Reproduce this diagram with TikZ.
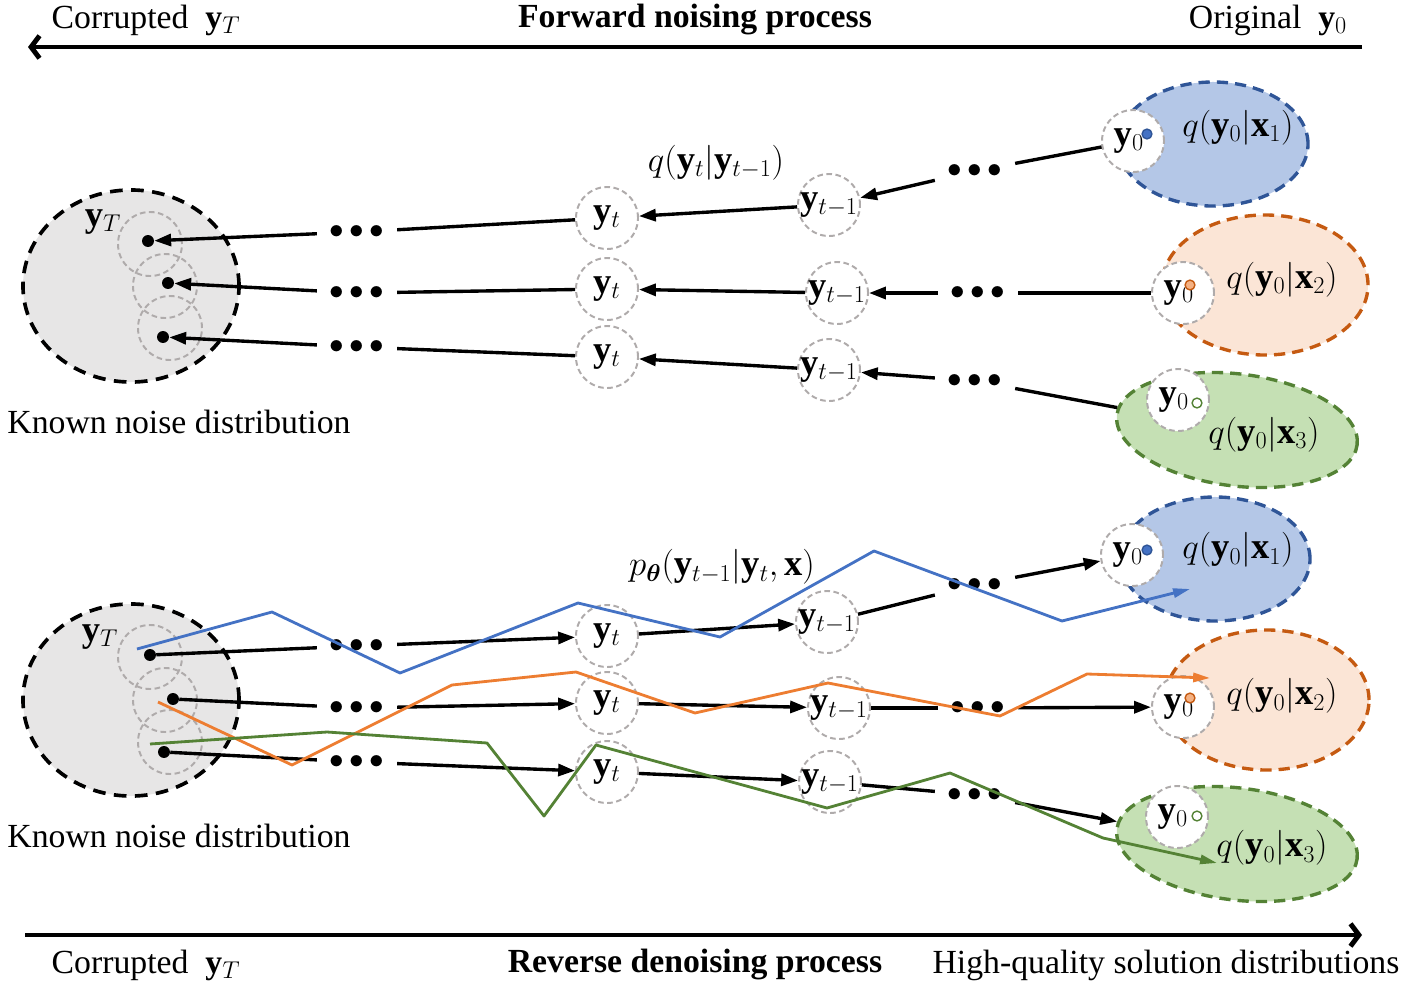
\documentclass[tikz,border=0pt]{standalone}
\usepackage{fontspec}
\setmainfont{Liberation Serif}
\usepackage{amsmath}
\usetikzlibrary{shapes.geometric,arrows.meta,positioning}

\definecolor{nodegray}{HTML}{AFABAB}
\definecolor{noisegray}{HTML}{E7E6E6}
\definecolor{trajblue}{HTML}{4472C4}
\definecolor{fillblue}{HTML}{B4C7E7}
\definecolor{edgeblue}{HTML}{2F5597}
\definecolor{trajorange}{HTML}{ED7D31}
\definecolor{fillorange}{HTML}{FBE5D6}
\definecolor{edgeorange}{HTML}{C55A11}
\definecolor{dotorange}{HTML}{F4B183}
\definecolor{trajgreen}{HTML}{548235}
\definecolor{fillgreen}{HTML}{C5E0B4}

\newcommand{\tridots}{${\bullet}\hspace{4pt}{\bullet}\hspace{4pt}{\bullet}$}

\tikzset{
  state/.style={circle, draw=nodegray, line width=1.4pt, dash pattern=on 4pt off 2.5pt, minimum size=1.55cm, inner sep=0pt},
  every label/.append style={font=\fontsize{26}{30}\selectfont},
  mathlbl/.style={font=\fontsize{26}{30}\selectfont},
  noise/.style={ellipse, fill=noisegray, draw=black, line width=2.6pt, dash pattern=on 9pt off 6pt, minimum width=5.4cm, minimum height=4.8cm},
  dist/.style={ellipse, line width=2.4pt, dash pattern=on 8pt off 5pt},
  endpt/.style={circle, fill=black, inner sep=0pt, minimum size=8.5pt},
  smallpt/.style={circle, line width=1pt, inner sep=0pt, minimum size=7pt},
  dots/.style={inner sep=0pt, outer sep=9pt, font=\fontsize{21}{25}\selectfont},
  link/.style={line width=2.4pt},
  fwd/.style={line width=2.4pt, -{Triangle[length=12pt,width=8.5pt]}},
  axis/.style={line width=3.5pt, -{Straight Barb[length=6pt,width=16pt]}},
  traj/.style={line width=2pt, line join=round},
  trajend/.style={traj, -{Triangle[length=12pt,width=6.5pt]}},
}

\begin{document}
\begin{tikzpicture}[x=0.025cm, y=-0.025cm, font=\fontsize{24}{28}\selectfont]
\useasboundingbox (0,0) rectangle (1416,987);

% forward axis
\node (cTop) at (146,20) {Corrupted~~$\mathbf{y}_T$};
\node[font=\fontsize{24}{28}\selectfont\bfseries] (fTop) at (695,20) {Forward noising process};
\node (oTop) at (1268,20) {Original~~$\mathbf{y}_0$};
\coordinate (axTr) at (1362,47);
\coordinate (axTl) at (28,47);
\draw[axis] (axTr) -- (axTl);

% reverse axis
\node (cBot) at (146,965) {Corrupted~~$\mathbf{y}_T$};
\node[font=\fontsize{24}{28}\selectfont\bfseries] (rBot) at (695,965) {Reverse denoising process};
\node (hBot) at (1166,965) {High-quality solution distributions};
\coordinate (axBl) at (25,935);
\coordinate (axBr) at (1362,935);
\draw[axis] (axBl) -- (axBr);

%%%%% forward part
\node[noise] (nA) at (131,286) {};
\node[mathlbl] (lA) at (103,222) {$\mathbf{y}_T$};
\node[state, minimum size=1.6cm] (cA1) at (150,244) {};
\node[state, minimum size=1.6cm] (cA2) at (165,286) {};
\node[state, minimum size=1.6cm] (cA3) at (170,328) {};
\node[endpt] (pA1) at (148,241) {};
\node[endpt] (pA2) at (168,283) {};
\node[endpt] (pA3) at (163,337) {};
\node (kA) at (179,422) {Known noise distribution};

\node[dots] (dA1) at (357,232) {\tridots};
\node[dots] (dA2) at (357,293) {\tridots};
\node[dots] (dA3) at (357,347) {\tridots};
\node[dots] (dA4) at (975,171) {\tridots};
\node[dots] (dA5) at (978,293) {\tridots};
\node[dots] (dA6) at (975,381) {\tridots};

\node[state, label=center:{$\mathbf{y}_t$}] (tA1) at (607,218) {};
\node[state, label=center:{$\mathbf{y}_t$}] (tA2) at (607,289) {};
\node[state, label=center:{$\mathbf{y}_t$}] (tA3) at (607,357) {};
\node[state, label=center:{$\mathbf{y}_{t-1}$}] (sA1) at (829,205) {};
\node[state, label=center:{$\mathbf{y}_{t-1}$}] (sA2) at (837,293) {};
\node[state, label=center:{$\mathbf{y}_{t-1}$}] (sA3) at (829,370) {};
\node[mathlbl] (qA) at (716,163) {$q(\mathbf{y}_t|\mathbf{y}_{t-1})$};

\node[dist, fill=fillblue, draw=edgeblue, minimum width=4.75cm, minimum height=3.1cm] (eA1) at (1213,144) {};
\node[dist, fill=fillorange, draw=edgeorange, minimum width=5.15cm, minimum height=3.5cm] (eA2) at (1265,285) {};
\node[dist, fill=fillgreen, draw=trajgreen, minimum width=6.05cm, minimum height=2.8cm, rotate=-7] (eA3) at (1237,430) {};
\node[state, fill=white, label={[xshift=-3pt]center:{$\mathbf{y}_0$}}] (oA1) at (1133,141) {};
\node[state, fill=white, label={[xshift=-3pt]center:{$\mathbf{y}_0$}}] (oA2) at (1183,293) {};
\node[state, fill=white, label={[xshift=-3pt]center:{$\mathbf{y}_0$}}] (oA3) at (1178,400) {};
\node[smallpt, fill=trajblue, draw=edgeblue] (bA1) at (1147,134) {};
\node[smallpt, fill=dotorange, draw=edgeorange] (bA2) at (1190,285) {};
\node[smallpt, fill=white, draw=trajgreen] (bA3) at (1197,403) {};
\node[mathlbl] (gA1) at (1238,128) {$q(\mathbf{y}_0|\mathbf{x}_1)$};
\node[mathlbl] (gA2) at (1282,280) {$q(\mathbf{y}_0|\mathbf{x}_2)$};
\node[mathlbl] (gA3) at (1264,435) {$q(\mathbf{y}_0|\mathbf{x}_3)$};

\draw[link] (oA1) -- (dA4);
\draw[link] (oA2) -- (dA5);
\draw[link] (eA3) -- (dA6);
\draw[fwd] (dA4) -- (sA1);
\draw[fwd] (dA5) -- (sA2);
\draw[fwd] (dA6) -- (sA3);
\draw[fwd] (sA1) -- (tA1);
\draw[fwd] (sA2) -- (tA2);
\draw[fwd] (sA3) -- (tA3);
\draw[link] (tA1) -- (dA1);
\draw[link] (tA2) -- (dA2);
\draw[link] (tA3) -- (dA3);
\draw[fwd] (dA1) -- (pA1);
\draw[fwd] (dA2) -- (pA2);
\draw[fwd] (dA3) -- (pA3);

%%%%% reverse part
\node[noise] (nB) at (131,700) {};
\node[mathlbl] (lB) at (100,637) {$\mathbf{y}_T$};
\node[state, minimum size=1.6cm] (cB1) at (150,657) {};
\node[state, minimum size=1.6cm] (cB2) at (165,700) {};
\node[state, minimum size=1.6cm] (cB3) at (170,742) {};
\node[endpt] (pB1) at (150,655) {};
\node[endpt] (pB2) at (173,699) {};
\node[endpt] (pB3) at (164,752) {};
\node (kB) at (179,836) {Known noise distribution};

\node[dots] (dB1) at (357,646) {\tridots};
\node[dots] (dB2) at (357,708) {\tridots};
\node[dots] (dB3) at (357,762) {\tridots};
\node[dots] (dB4) at (975,585) {\tridots};
\node[dots] (dB5) at (978,708) {\tridots};
\node[dots] (dB6) at (975,795) {\tridots};

\node[state, label=center:{$\mathbf{y}_t$}] (tB1) at (607,636) {};
\node[state, label=center:{$\mathbf{y}_t$}] (tB2) at (607,703) {};
\node[state, label=center:{$\mathbf{y}_t$}] (tB3) at (607,772) {};
\node[state, label=center:{$\mathbf{y}_{t-1}$}] (sB1) at (827,622) {};
\node[state, label=center:{$\mathbf{y}_{t-1}$}] (sB2) at (839,708) {};
\node[state, label=center:{$\mathbf{y}_{t-1}$}] (sB3) at (830,782) {};
\node[mathlbl] (qB) at (722,567) {$p_{\boldsymbol{\theta}}(\mathbf{y}_{t-1}|\mathbf{y}_t,\mathbf{x})$};

\node[dist, fill=fillblue, draw=edgeblue, minimum width=4.75cm, minimum height=3.1cm] (eB1) at (1215,559) {};
\node[dist, fill=fillorange, draw=edgeorange, minimum width=5.1cm, minimum height=3.5cm] (eB2) at (1267,700) {};
\node[dist, fill=fillgreen, draw=trajgreen, minimum width=6.05cm, minimum height=2.8cm, rotate=-7] (eB3) at (1237,844) {};
\node[state, fill=white, label={[xshift=-3pt]center:{$\mathbf{y}_0$}}] (oB1) at (1132,555) {};
\node[state, fill=white, label={[xshift=-3pt]center:{$\mathbf{y}_0$}}] (oB2) at (1183,707) {};
\node[state, fill=white, label={[xshift=-3pt]center:{$\mathbf{y}_0$}}] (oB3) at (1177,817) {};
\node[smallpt, fill=trajblue, draw=edgeblue] (bB1) at (1147,550) {};
\node[smallpt, fill=dotorange, draw=edgeorange] (bB2) at (1190,698) {};
\node[smallpt, fill=white, draw=trajgreen] (bB3) at (1197,816) {};
\node[mathlbl] (gB1) at (1238,550) {$q(\mathbf{y}_0|\mathbf{x}_1)$};
\node[mathlbl] (gB2) at (1282,696) {$q(\mathbf{y}_0|\mathbf{x}_2)$};
\node[mathlbl] (gB3) at (1272,848) {$q(\mathbf{y}_0|\mathbf{x}_3)$};

\draw[link] (pB1) -- (dB1);
\draw[link] (pB2) -- (dB2);
\draw[link] (pB3) -- (dB3);
\draw[fwd] (dB1) -- (tB1);
\draw[fwd] (dB2) -- (tB2);
\draw[fwd] (dB3) -- (tB3);
\draw[fwd] (tB1) -- (sB1);
\draw[fwd] (tB2) -- (sB2);
\draw[fwd] (tB3) -- (sB3);
\draw[link] (sB1) -- (dB4);
\draw[link] (sB2) -- (dB5);
\draw[link] (sB3) -- (dB6);
\draw[fwd] (dB4) -- (oB1);
\draw[fwd] (dB5) -- (oB2);
\draw[fwd] (dB6) -- (eB3);

% sampled trajectories
\coordinate (zB1) at (1190,589);
\coordinate (zB2) at (1210,678);
\coordinate (zB3) at (1217,863);
\draw[trajend, trajblue] (137,649) -- (272,612) -- (400,673) -- (578,603) -- (720,637) -- (874,551) -- (1062,621) -- (zB1);
\draw[trajend, trajorange] (158,702) -- (292,765) -- (452,685) -- (576,672) -- (695,713) -- (828,683) -- (1000,716) -- (1087,674) -- (zB2);
\draw[trajend, trajgreen] (150,744) -- (327,732) -- (487,743) -- (544,816) -- (596,745) -- (827,808) -- (950,773) -- (1103,838) -- (zB3);
\end{tikzpicture}
\end{document}
